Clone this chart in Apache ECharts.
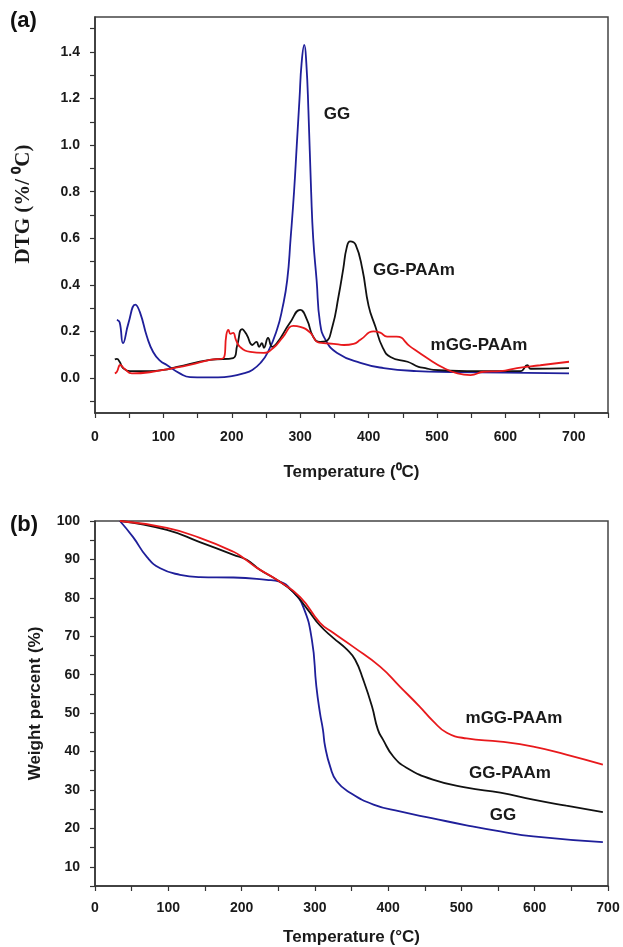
<!DOCTYPE html>
<html>
<head>
<meta charset="utf-8">
<style>
  html, body { margin: 0; padding: 0; background: #fff; }
  #chart { width: 623px; height: 947px; }
</style>
<script src="https://cdn.jsdelivr.net/npm/echarts@6/dist/echarts.min.js"></script>
</head>
<body>
<div id="chart"></div>
<script>
// panel (a) DTG curves, [temperature, %/°C]
const dtgGG = [
  [32, 0.25], [36, 0.24], [41, 0.15], [49, 0.237], [59, 0.315], [66, 0.28], [76, 0.177],
  [85, 0.112], [95, 0.075], [105, 0.056], [124, 0.02], [139, 0.004], [160, 0.003],
  [180, 0.003], [200, 0.008], [217, 0.02], [230, 0.035], [242, 0.065], [253, 0.112],
  [266, 0.207], [274, 0.3], [281, 0.42], [286, 0.6], [291, 0.8], [295, 1.0], [299, 1.2],
  [302, 1.35], [306, 1.43], [309, 1.35], [312, 1.15], [316, 0.8], [319, 0.6], [324, 0.42],
  [329, 0.237], [337, 0.164], [354, 0.108], [388, 0.065], [422, 0.043], [470, 0.03],
  [520, 0.026], [600, 0.023], [693, 0.02]
];
const dtgGGPAAm = [
  [29, 0.08], [32, 0.082], [36, 0.07], [41, 0.043], [51, 0.03], [80, 0.03], [100, 0.035],
  [120, 0.048], [168, 0.078], [202, 0.086], [208, 0.142], [215, 0.21], [222, 0.185],
  [230, 0.142], [236, 0.155], [240, 0.134], [244, 0.15], [247, 0.13], [253, 0.172],
  [259, 0.134], [266, 0.15], [285, 0.237], [300, 0.293], [310, 0.25], [319, 0.177],
  [329, 0.155], [337, 0.157], [347, 0.22], [356, 0.35], [363, 0.47], [368, 0.56],
  [373, 0.587], [381, 0.573], [391, 0.466], [400, 0.31], [410, 0.22], [420, 0.135],
  [432, 0.09], [457, 0.07], [473, 0.048], [483, 0.043], [495, 0.035], [544, 0.03],
  [622, 0.03], [632, 0.055], [637, 0.04], [693, 0.043]
];
const dtgMGGPAAm = [
  [29, 0.02], [32, 0.027], [37, 0.056], [43, 0.04], [54, 0.02], [80, 0.025], [115, 0.043],
  [140, 0.058], [168, 0.078], [188, 0.086], [192, 0.185], [195, 0.207], [198, 0.19],
  [202, 0.194], [206, 0.164], [212, 0.134], [227, 0.112], [246, 0.108], [261, 0.13],
  [275, 0.177], [290, 0.224], [300, 0.22], [315, 0.194], [325, 0.155], [334, 0.15],
  [349, 0.147], [364, 0.142], [378, 0.147], [388, 0.164], [407, 0.2], [417, 0.195],
  [427, 0.178], [441, 0.178], [461, 0.135], [486, 0.085], [510, 0.043], [530, 0.02],
  [549, 0.013], [568, 0.027], [593, 0.03], [617, 0.043], [651, 0.055], [693, 0.07]
];

// panel (b) TGA curves, [temperature, weight %]
const tgaGG = [
  [34, 100], [52, 95.8], [71, 90.6], [89, 87.7], [116, 86], [143, 85.4], [189, 85.3],
  [234, 84.7], [252, 84.2], [270, 81.6], [284, 77.7], [296, 69], [302, 57], [307, 50],
  [311, 45.7], [314, 41.3], [321, 36], [330, 32.2], [348, 29.3], [380, 26.2],
  [416, 24.4], [461, 22.6], [507, 20.8], [553, 19.2], [598, 17.9], [693, 16.4]
];
const tgaGGPAAm = [
  [34, 100], [98, 97.7], [143, 94.5], [189, 91.2], [207, 89.9], [225, 87.3], [248, 84.7],
  [270, 81.6], [290, 77], [307, 72.8], [325, 69.6], [344, 66.5], [355, 63.9],
  [366, 58.7], [378, 51.7], [386, 45.7], [393, 43.1], [407, 38.7], [425, 35.8],
  [461, 32.7], [507, 30.6], [553, 29.3], [598, 27.5], [643, 25.9], [693, 24.2]
];
const tgaMGGPAAm = [
  [34, 100], [98, 98.2], [143, 95.6], [189, 92], [203, 90.3], [221, 87.8], [248, 84.7],
  [280, 80.2], [307, 73.5], [325, 70.9], [352, 67.3], [389, 62.1], [416, 56.9],
  [443, 51.7], [461, 48], [480, 44.9], [507, 43.4], [553, 42.6], [598, 41.3],
  [643, 39.2], [693, 36.6]
];

// tick values
const xLabelsA = [0, 100, 200, 300, 400, 500, 600, 700];
const xTicksA = [0, 50, 100, 150, 200, 250, 300, 350, 400, 450, 500, 550, 600, 650, 700, 750];
const yLabelsA = [0, 0.2, 0.4, 0.6, 0.8, 1.0, 1.2, 1.4];
const yTicksA = [-0.1, 0, 0.1, 0.2, 0.3, 0.4, 0.5, 0.6, 0.7, 0.8, 0.9, 1.0, 1.1, 1.2, 1.3, 1.4, 1.5];
const xLabelsB = [0, 100, 200, 300, 400, 500, 600, 700];
const xTicksB = [0, 50, 100, 150, 200, 250, 300, 350, 400, 450, 500, 550, 600, 650, 700];
const yLabelsB = [10, 20, 30, 40, 50, 60, 70, 80, 90, 100];
const yTicksB = [5, 10, 15, 20, 25, 30, 35, 40, 45, 50, 55, 60, 65, 70, 75, 80, 85, 90, 95, 100];

const BLUE = "#1f1f9a";
const BLACK = "#111111";
const RED = "#e8191c";
const AXIS = "#333333";
const SANS = "Liberation Sans, Arial, sans-serif";

function axisBase(labels, ticks, fmt, margin) {
  return {
    axisLine: { show: true, onZero: false, lineStyle: { color: AXIS, width: 1.5 } },
    axisTick: { show: true, inside: false, length: 5, customValues: ticks, lineStyle: { color: AXIS, width: 1.2 } },
    axisLabel: {
      customValues: labels,
      formatter: fmt,
      color: "#1a1a1a",
      fontFamily: SANS,
      fontWeight: "bold",
      fontSize: 14,
      margin: margin,
    },
    splitLine: { show: false },
  };
}

function lineSeries(name, data, color, xi) {
  return {
    name,
    type: "line",
    xAxisIndex: xi,
    yAxisIndex: xi,
    data,
    showSymbol: false,
    smooth: 0.5,
    lineStyle: { color, width: 1.8 },
    itemStyle: { color },
    z: 3,
  };
}

// curve name placed by its centre
function label(text, x, y, font) {
  return {
    type: "text",
    x,
    y,
    style: { text, fill: "#1a1a1a", font: font || "bold 17px " + SANS, align: "center", verticalAlign: "middle" },
  };
}

const titleStyle = { fontFamily: SANS, fontWeight: "bold", fontSize: 17, color: "#1a1a1a" };

const chart = echarts.init(document.getElementById("chart"));

chart.setOption({
  animation: false,
  backgroundColor: "#fff",
  grid: [
    { left: 95, top: 17, width: 513, height: 396, show: true, borderColor: "#444", borderWidth: 1.5 },
    { left: 95, top: 521, width: 513, height: 365, show: true, borderColor: "#444", borderWidth: 1.5 },
  ],
  xAxis: [
    {
      gridIndex: 0, type: "value", min: 0, max: 750,
      ...axisBase(xLabelsA, xTicksA, (v) => String(v), 17),
      name: "Temperature (\u2070C)",
      nameLocation: "middle",
      nameGap: 51,
      nameTextStyle: titleStyle,
    },
    {
      gridIndex: 1, type: "value", min: 0, max: 700,
      ...axisBase(xLabelsB, xTicksB, (v) => String(v), 15),
      name: "Temperature (\u00B0C)",
      nameLocation: "middle",
      nameGap: 43,
      nameTextStyle: titleStyle,
    },
  ],
  yAxis: [
    {
      gridIndex: 0, type: "value", min: -0.15, max: 1.55,
      ...axisBase(yLabelsA, yTicksA, (v) => v.toFixed(1), 15),
    },
    {
      gridIndex: 1, type: "value", min: 5, max: 100,
      ...axisBase(yLabelsB, yTicksB, (v) => String(v), 15),
      name: "Weight percent (%)",
      nameLocation: "middle",
      nameGap: 51,
      nameTextStyle: titleStyle,
    },
  ],
  series: [
    lineSeries("GG", dtgGG, BLUE, 0),
    lineSeries("GG-PAAm", dtgGGPAAm, BLACK, 0),
    lineSeries("mGG-PAAm", dtgMGGPAAm, RED, 0),
    lineSeries("GG", tgaGG, BLUE, 1),
    lineSeries("GG-PAAm", tgaGGPAAm, BLACK, 1),
    lineSeries("mGG-PAAm", tgaMGGPAAm, RED, 1),
  ],
  graphic: [
    { type: "text", left: 10, top: 10, style: { text: "(a)", fill: "#111", font: "bold 22px " + SANS } },
    { type: "text", left: 10, top: 514, style: { text: "(b)", fill: "#111", font: "bold 22px " + SANS } },
    {
      type: "text", x: 24, y: 204, rotation: Math.PI / 2,
      style: { text: "DTG (%/ \u2070C)", fill: "#1a1a1a", font: "bold 21px Liberation Serif, Times New Roman, serif", align: "center", verticalAlign: "middle" },
    },
    label("GG", 337, 114),
    label("GG-PAAm", 414, 270),
    label("mGG-PAAm", 479, 345),
    label("mGG-PAAm", 514, 718),
    label("GG-PAAm", 510, 773),
    label("GG", 503, 815),
  ],
});
</script>
</body>
</html>
